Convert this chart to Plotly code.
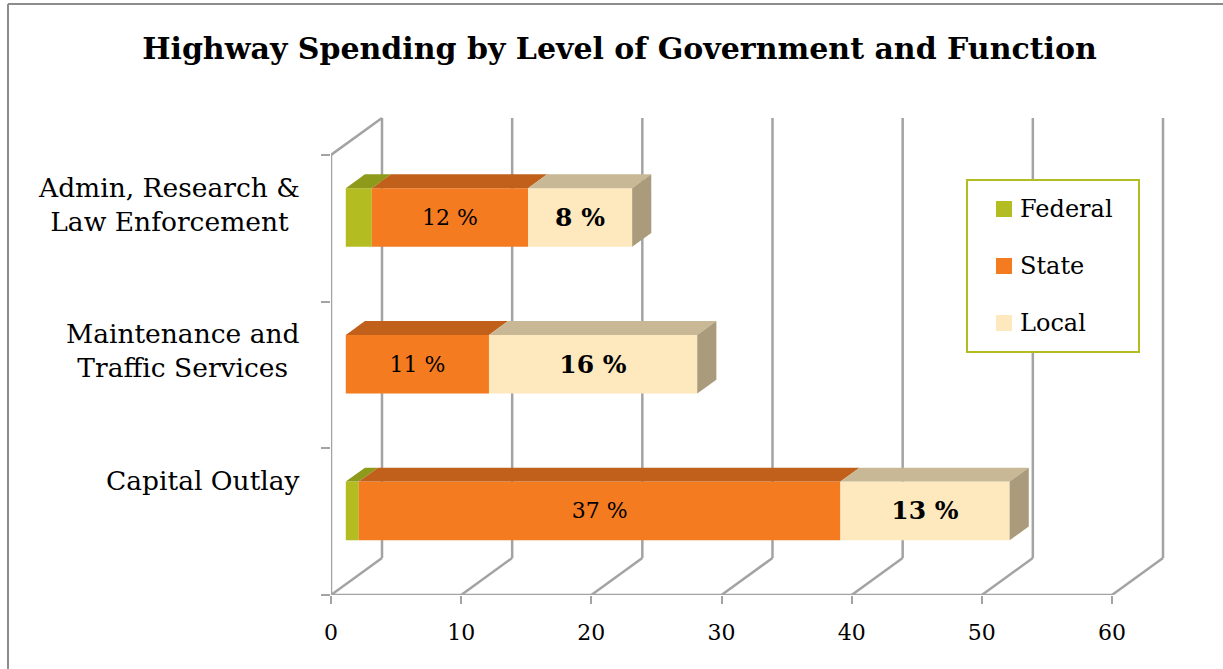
import plotly.graph_objects as go

# ---- data -----------------------------------------------------------------
categories = ["Capital Outlay",
              "Maintenance and<br>Traffic Services",
              "Admin, Research &<br>Law Enforcement"]
federal = [1, 0, 2]
state = [37, 11, 12]
local = [13, 16, 8]
series_names = ["Federal", "State", "Local"]
x_ticks = [0, 10, 20, 30, 40, 50, 60]

# ---- page geometry (pixels) -------------------------------------------------
W, H = 1223, 669
L, R, T, B = 331, 53, 110, 74
plot_w = W - L - R
plot_h = H - T - B
PX_PER_X = 781 / 60.0          # horizontal scale of the value axis
PX_PER_Y = 146.7               # height of one category band
x_range = [0, plot_w / PX_PER_X]
y_range = [0, plot_h / PX_PER_Y]

# 3-D look: wall depth vector and bar placement inside that depth
DX = 51 / PX_PER_X
DY = 37 / PX_PER_Y
BAR_FRONT = 0.29               # fraction of the depth where bar fronts sit
BAR_DEPTH = 0.375              # fraction of the depth the bars occupy
BAR_THICK = 0.40               # bar height in category units
LABEL_LIFT = 0.40

GRID = "#A3A3A3"
front_col = {"Federal": "#B3BD22", "State": "#F47B20", "Local": "#FDE9BD"}
top_col = {"Federal": "#8E9A1A", "State": "#C0601A", "Local": "#C9B896"}
side_col = {"Federal": "#7E8816", "State": "#A85418", "Local": "#A99B7B"}

FONT = "DejaVu Serif"


def paper_x(px):
    return (px - L) / plot_w


def paper_y(py):
    return (H - B - py) / plot_h


values = {"Federal": federal, "State": state, "Local": local}
centers = [i + 0.5 for i in range(len(categories))]

fig = go.Figure()

# ---- walls and floor grid (behind the bars) ---------------------------------
shapes = []
line = dict(color=GRID, width=2.5)
top_val = len(categories)
for v in x_ticks:
    # back wall vertical
    shapes.append(dict(type="line", xref="x", yref="y", layer="below",
                       x0=v + DX, y0=DY, x1=v + DX, y1=top_val + DY, line=line))
    # floor diagonal
    shapes.append(dict(type="line", xref="x", yref="y", layer="below",
                       x0=v, y0=0, x1=v + DX, y1=DY, line=line))
# front floor edge
shapes.append(dict(type="line", xref="x", yref="y", layer="below",
                   x0=x_ticks[0], y0=0, x1=x_ticks[-1], y1=0, line=line))
# left wall front edge and top edge
shapes.append(dict(type="line", xref="x", yref="y", layer="below",
                   x0=0, y0=0, x1=0, y1=top_val, line=line))
shapes.append(dict(type="line", xref="x", yref="y", layer="below",
                   x0=0, y0=top_val, x1=DX, y1=top_val + DY, line=line))

# ---- bar tops and right-hand sides ----------------------------------------------
f0, f1 = BAR_FRONT, BAR_FRONT + BAR_DEPTH
for ci, c in enumerate(centers):
    cum = 0.0
    yb, yt = c - BAR_THICK / 2, c + BAR_THICK / 2
    last = None
    for name in series_names:
        v = values[name][ci]
        if v <= 0:
            continue
        x0, x1 = cum, cum + v
        fig.add_trace(go.Scatter(
            x=[x0 + f0 * DX, x1 + f0 * DX, x1 + f1 * DX, x0 + f1 * DX, x0 + f0 * DX],
            y=[yt + f0 * DY, yt + f0 * DY, yt + f1 * DY, yt + f1 * DY, yt + f0 * DY],
            mode="lines", fill="toself", fillcolor=top_col[name],
            line=dict(width=0, color=top_col[name]),
            hoverinfo="skip", showlegend=False))
        cum = x1
        last = name
    if last is not None:
        fig.add_trace(go.Scatter(
            x=[cum + f0 * DX, cum + f0 * DX, cum + f1 * DX, cum + f1 * DX, cum + f0 * DX],
            y=[yb + f0 * DY, yt + f0 * DY, yt + f1 * DY, yb + f1 * DY, yb + f0 * DY],
            mode="lines", fill="toself", fillcolor=side_col[last],
            line=dict(width=0, color=side_col[last]),
            hoverinfo="skip", showlegend=False))

# ---- bar front faces ---------------------------------------------------------
bar_y = [c + f0 * DY for c in centers]
base = [0.0] * len(categories)
for name in series_names:
    vals = values[name]
    if name == "State":
        text = [f"{v} %" for v in vals]
        tfont = dict(family=FONT, size=22, color="black")
    elif name == "Local":
        text = [f"<b>{v} %</b>" for v in vals]
        tfont = dict(family=FONT, size=25, color="black")
    else:
        text = None
        tfont = None
    fig.add_trace(go.Bar(
        orientation="h", name=name,
        y=bar_y, x=vals, base=[b + f0 * DX for b in base],
        width=BAR_THICK,
        marker=dict(color=front_col[name], line=dict(width=0)),
        text=text, textposition="inside" if text else None,
        insidetextanchor="middle", textangle=0,
        textfont=tfont, constraintext="none",
        hoverinfo="skip", showlegend=False))
    base = [b + v for b, v in zip(base, vals)]

# ---- category labels -----------------------------------------------------------
annotations = []
for c, label in zip(centers, categories):
    annotations.append(dict(
        xref="paper", yref="y", x=paper_x(302), y=c + LABEL_LIFT,
        xanchor="right", yanchor="top", align="center",
        text=label, showarrow=False,
        font=dict(family=FONT, size=26.5, color="black")))

# ---- legend -----------------------------------------------------------------------
shapes.append(dict(type="rect", xref="paper", yref="paper",
                   x0=paper_x(967), x1=paper_x(1139),
                   y0=paper_y(352), y1=paper_y(180),
                   fillcolor="white", line=dict(color="#B3BD22", width=2),
                   layer="above"))
for k, name in enumerate(series_names):
    cy = 209 + 57 * k
    shapes.append(dict(type="rect", xref="paper", yref="paper",
                       x0=paper_x(996), x1=paper_x(1012),
                       y0=paper_y(cy + 8), y1=paper_y(cy - 8),
                       fillcolor=front_col[name], line=dict(width=0),
                       layer="above"))
    annotations.append(dict(
        xref="paper", yref="paper", x=paper_x(1018), y=paper_y(cy),
        xanchor="left", yanchor="middle", text=name, showarrow=False,
        font=dict(family=FONT, size=24, color="black")))

# ---- outer frame ----------------------------------------------------------------------
frame = dict(color="#8C8C8C", width=2)
shapes.append(dict(type="line", xref="paper", yref="paper",
                   x0=paper_x(8), x1=paper_x(8), y0=paper_y(H + 2), y1=paper_y(4),
                   line=frame, layer="above"))
shapes.append(dict(type="line", xref="paper", yref="paper",
                   x0=paper_x(8), x1=paper_x(W + 2), y0=paper_y(4), y1=paper_y(4),
                   line=frame, layer="above"))

fig.update_layout(
    width=W, height=H,
    margin=dict(l=L, r=R, t=T, b=B, pad=0),
    paper_bgcolor="white", plot_bgcolor="white",
    barmode="overlay", showlegend=False,
    title=dict(text="<b>Highway Spending by Level of Government and Function</b>",
               x=619.5 / W, xanchor="center",
               y=1 - 48 / H, yanchor="middle",
               font=dict(family=FONT, size=30, color="black")),
    xaxis=dict(range=x_range, tickvals=x_ticks, showgrid=False, zeroline=False,
               showline=False, ticks="outside", ticklen=8, tickwidth=2,
               tickcolor=GRID, ticklabelstandoff=10,
               tickfont=dict(family=FONT, size=22, color="black"), fixedrange=True),
    yaxis=dict(range=y_range, tickvals=list(range(len(categories) + 1)),
               showticklabels=False, showgrid=False, zeroline=False,
               showline=False, ticks="outside", ticklen=9, tickwidth=2,
               tickcolor=GRID, fixedrange=True),
    shapes=shapes, annotations=annotations,
)

fig.write_html("out.html")
